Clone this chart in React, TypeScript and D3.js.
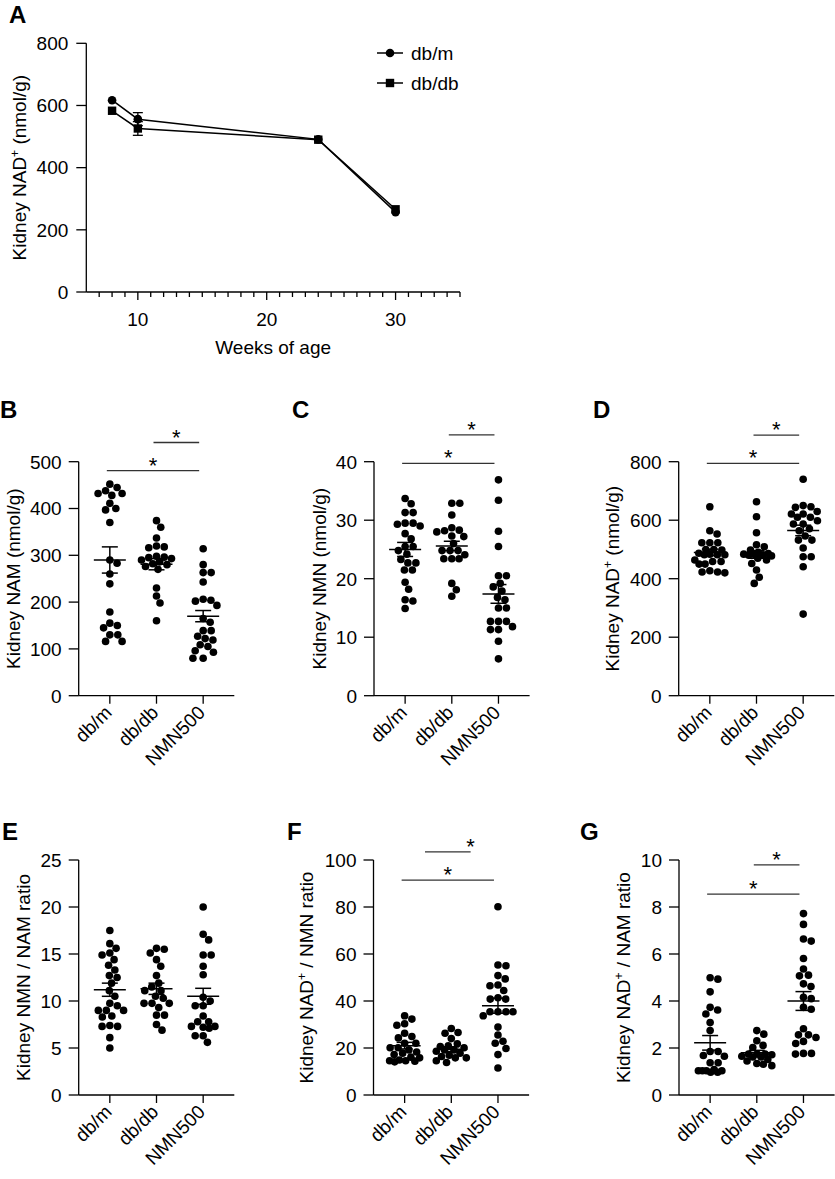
import React from 'react';
import * as d3 from 'd3';

const FONT = "'Liberation Sans', Arial, Helvetica, sans-serif";

// ---------- Panel A ----------
const weeks = [8, 10, 24, 30];
const nadDbm = [617, 556, 491, 257];
const nadDbmSem = [3, 21, 3, 3];
const nadDbdb = [583, 526, 490, 266];
const nadDbdbSem = [3, 22, 3, 3];
const weekTicks = [10, 20, 30];
const aYTicks = [0, 200, 400, 600, 800];

const groups = ['db/m', 'db/db', 'NMN500'];

// ---------- Panel B: Kidney NAM ----------
const bDbm = [452, 445, 438, 432, 432, 428, 411, 400, 397, 370, 290, 283, 260, 239, 179, 155, 150, 145, 130, 130, 116, 116];
const bDbdb = [374, 360, 337, 320, 318, 316, 298, 296, 295, 293, 290, 286, 282, 280, 276, 270, 230, 213, 198, 160];
const bNmn = [314, 280, 263, 263, 243, 206, 204, 202, 193, 165, 157, 139, 139, 127, 122, 119, 109, 105, 96, 93, 80, 80];
const bMean = [290, 281, 170];
const bSem = [28, 12, 12];
const bTicks = [0, 100, 200, 300, 400, 500];

// ---------- Panel C: Kidney NMN ----------
const cDbm = [33.7, 32.8, 31.3, 31.3, 29.5, 29.5, 29.3, 29.0, 27.7, 26.8, 25.5, 25.5, 24.8, 24.2, 23.3, 22.7, 22.7, 21.5, 21.5, 19.4, 18.2, 16.4, 16.2, 14.9];
const cDbdb = [32.9, 32.9, 30.9, 28.7, 28.3, 28.2, 28.0, 27.3, 27.2, 26.0, 24.8, 24.8, 24.8, 24.1, 23.4, 23.4, 23.4, 19.2, 18.1, 17.0];
const cNmn = [36.9, 33.4, 28.1, 25.5, 20.5, 20.5, 19.2, 18.6, 17.9, 16.8, 16.4, 15.0, 15.0, 12.7, 12.7, 12.7, 11.8, 11.3, 11.3, 9.3, 6.3];
const cMean = [25.0, 25.6, 17.4];
const cSem = [1.2, 0.8, 1.6];
const cTicks = [0, 10, 20, 30, 40];

// ---------- Panel D: Kidney NAD+ ----------
const dDbm = [646, 564, 553, 523, 523, 523, 500, 500, 498, 487, 484, 482, 482, 482, 464, 459, 459, 450, 450, 427, 423, 423, 420];
const dDbdb = [663, 612, 557, 516, 509, 498, 490, 486, 484, 484, 482, 480, 478, 470, 464, 452, 430, 405, 384];
const dNmn = [740, 650, 646, 644, 630, 621, 621, 610, 610, 598, 587, 587, 571, 564, 546, 532, 532, 505, 475, 475, 441, 279];
const dMean = [490, 483, 565];
const dSem = [11, 13, 18];
const dTicks = [0, 200, 400, 600, 800];

// ---------- Panel E: NMN / NAM ratio ----------
const eDbm = [17.5, 16.1, 15.6, 15.1, 14.9, 14.4, 13.8, 13.3, 12.7, 12.5, 11.9, 11.1, 10.5, 9.75, 9.5, 9.0, 9.0, 9.0, 8.4, 8.3, 7.4, 7.3, 7.3, 6.1, 5.0];
const eDbdb = [15.6, 15.5, 15.1, 14.4, 13.7, 12.7, 11.9, 11.5, 11.1, 11.1, 10.5, 10.3, 9.75, 9.75, 9.75, 9.3, 8.5, 8.5, 7.5, 6.9];
const eNmn = [20.0, 17.1, 16.5, 14.9, 14.9, 13.7, 12.8, 10.4, 10.0, 9.5, 9.5, 8.4, 7.8, 7.8, 7.3, 7.3, 7.2, 7.1, 6.3, 6.3, 5.6];
const eMean = [11.2, 11.3, 10.5];
const eSem = [0.7, 0.6, 0.85];
const eTicks = [0, 5, 10, 15, 20, 25];

// ---------- Panel F: NAD+ / NMN ratio ----------
const fDbm = [33.7, 32.3, 30.3, 29.7, 26.3, 24.9, 24.3, 22.0, 22.0, 20.1, 20.1, 19.2, 18.3, 17.8, 17.2, 16.1, 15.8, 14.9, 14.6, 14.6, 14.4, 14.1];
const fDbdb = [28.3, 26.6, 26.3, 24.0, 21.8, 20.9, 20.6, 20.1, 19.2, 19.2, 18.6, 17.8, 16.9, 16.4, 15.8, 15.8, 14.6, 13.8];
const fNmn = [80.1, 55.3, 55.0, 50.8, 49.4, 46.8, 46.5, 44.5, 41.4, 40.8, 40.8, 35.4, 35.4, 35.4, 35.4, 33.7, 28.9, 25.5, 22.9, 22.0, 19.8, 17.2, 11.5];
const fMean = [21.0, 19.5, 38.0];
const fSem = [1.4, 1.0, 3.2];
const fTicks = [0, 20, 40, 60, 80, 100];

// ---------- Panel G: NAD+ / NAM ratio ----------
const gDbm = [4.99, 4.93, 4.39, 3.73, 3.62, 3.45, 3.08, 2.74, 1.85, 1.85, 1.68, 1.65, 1.37, 1.37, 1.08, 1.03, 1.03, 1.03, 1.03, 0.97, 0.97];
const gDbdb = [2.74, 2.59, 2.31, 2.11, 2.02, 1.74, 1.74, 1.74, 1.71, 1.65, 1.62, 1.62, 1.51, 1.45, 1.34, 1.31, 1.25];
const gNmn = [7.72, 7.26, 6.64, 6.55, 5.81, 5.36, 5.10, 5.07, 4.73, 4.62, 4.16, 4.10, 3.73, 3.65, 2.82, 2.56, 2.56, 2.45, 2.28, 2.19, 1.77, 1.77, 1.74];
const gMean = [2.22, 1.8, 4.0];
const gSem = [0.31, 0.1, 0.4];
const gTicks = [0, 2, 4, 6, 8, 10];

// significance bars: [from index, to index, level (data units), asterisk fraction]
type Sig = [number, number, number, number];
const bSig: Sig[] = [[1, 2, 541, 0.5], [0, 2, 481, 0.5]];
const cSig: Sig[] = [[1, 2, 44.6, 0.5], [0, 2, 39.7, 0.5]];
const dSig: Sig[] = [[1, 2, 891, 0.5], [0, 2, 794, 0.5]];
const eSig: Sig[] = [];
const fSig: Sig[] = [[0.5, 1.5, 103.5, 1.0], [0, 2, 91.4, 0.5]];
const gSig: Sig[] = [[1, 2, 9.79, 0.5], [0, 2, 8.55, 0.5]];

// Beeswarm with a bounded half-width: points overlap when a cluster is too dense.
function beeswarm(values: number[], y: (v: number) => number, d: number, half: number) {
  const pts = values.map((v) => ({ v, y: y(v), x: 0 }));
  const order = pts.slice().sort((a, b) => a.y - b.y);
  const placed: { x: number; y: number }[] = [];
  const cands = d3
    .range(-half, half + 0.001, 0.25)
    .sort((a, b) => Math.abs(a) - Math.abs(b) || b - a);
  for (const p of order) {
    let best = 0;
    let bestScore = -1;
    for (const c of cands) {
      let md = Infinity;
      for (const q of placed) {
        const dist = Math.hypot(q.x - c, q.y - p.y);
        if (dist < md) md = dist;
      }
      const score = Math.min(md, d);
      if (score >= d - 1e-6) {
        best = c;
        bestScore = score;
        break;
      }
      if (score > bestScore + 1e-6) {
        bestScore = score;
        best = c;
      }
    }
    p.x = best;
    placed.push(p);
  }
  return pts;
}

function LabelText({ x, y, text, rotate = -90 }: { x: number; y: number; text: string; rotate?: number }) {
  const parts = text.split('⁺');
  return (
    <text transform={`translate(${x},${y}) rotate(${rotate})`} textAnchor="middle" fontSize={19}>
      {parts.map((p, i) => (
        <React.Fragment key={i}>
          {i > 0 && (
            <tspan fontSize={12} dy={-7}>
              +
            </tspan>
          )}
          <tspan dy={i > 0 ? 7 : 0}>{p}</tspan>
        </React.Fragment>
      ))}
    </text>
  );
}

type DotProps = {
  left: number;
  top: number;
  bottom: number;
  max: number;
  ticks: number[];
  label: string;
  labelX: number;
  letter: string;
  letterX: number;
  letterY: number;
  data: number[][];
  means: number[];
  sems: number[];
  sig: Sig[];
};

function DotPanel(p: DotProps) {
  const width = 155.6;
  const x = d3.scalePoint<string>().domain(groups).range([p.left, p.left + width]).padding(0.667);
  const y = d3.scaleLinear().domain([0, p.max]).range([p.bottom, p.top]);
  const step = x.step();
  const catX = (i: number) => (x(groups[0]) as number) + i * step;
  return (
    <g>
      <text x={p.letterX} y={p.letterY} fontSize={24} fontWeight="bold">
        {p.letter}
      </text>
      <LabelText x={p.labelX} y={(p.top + p.bottom) / 2} text={p.label} />
      {/* y axis */}
      <line x1={p.left} x2={p.left} y1={p.top} y2={p.bottom} stroke="#000" strokeWidth={1.3} />
      {p.ticks.map((t) => (
        <g key={t}>
          <line x1={p.left - 10} x2={p.left} y1={y(t)} y2={y(t)} stroke="#000" strokeWidth={1.3} />
          <text x={p.left - 17} y={y(t)} dy="0.36em" textAnchor="end" fontSize={19}>
            {t}
          </text>
        </g>
      ))}
      {/* x axis */}
      <line x1={p.left} x2={p.left + width} y1={p.bottom} y2={p.bottom} stroke="#000" strokeWidth={1.3} />
      {groups.map((g) => {
        const cx = x(g) as number;
        return (
          <g key={g}>
            <line x1={cx} x2={cx} y1={p.bottom} y2={p.bottom + 8} stroke="#000" strokeWidth={1.3} />
            <text
              transform={`translate(${cx + 3},${p.bottom + 18}) rotate(-45)`}
              textAnchor="end"
              fontSize={19}
            >
              {g}
            </text>
          </g>
        );
      })}
      {/* dots */}
      {p.data.map((vals, gi) => {
        const cx = catX(gi);
        const pts = beeswarm(vals, (v) => y(v), 7.8, 15);
        return (
          <g key={gi}>
            {pts.map((pt, i) => (
              <circle key={i} cx={cx + pt.x} cy={pt.y} r={3.8} fill="#000" />
            ))}
          </g>
        );
      })}
      {/* mean + SEM */}
      {p.means.map((m, gi) => {
        const cx = catX(gi);
        const s = p.sems[gi];
        return (
          <g key={gi} stroke="#000" strokeWidth={1.5}>
            <line x1={cx - 16} x2={cx + 16} y1={y(m)} y2={y(m)} />
            <line x1={cx} x2={cx} y1={y(m - s)} y2={y(m + s)} />
            <line x1={cx - 8} x2={cx + 8} y1={y(m + s)} y2={y(m + s)} />
            <line x1={cx - 8} x2={cx + 8} y1={y(m - s)} y2={y(m - s)} />
          </g>
        );
      })}
      {/* significance */}
      {p.sig.map(([a, b, lvl, frac], i) => {
        const x1 = catX(a) - 3;
        const x2 = catX(b) - 4;
        const yy = y(lvl);
        return (
          <g key={i}>
            <line x1={x1} x2={x2} y1={yy} y2={yy} stroke="#333" strokeWidth={1.3} />
            <text x={x1 + (x2 - x1) * frac} y={yy + 2} textAnchor="middle" fontSize={22}>
              *
            </text>
          </g>
        );
      })}
    </g>
  );
}

function PanelA() {
  const left = 86.3;
  const right = 460;
  const top = 43.3;
  const bottom = 292;
  const x = d3.scaleLinear().domain([6, 35]).range([left, right]);
  const y = d3.scaleLinear().domain([0, 800]).range([bottom, top]);
  const line = d3
    .line<number>()
    .x((_, i) => x(weeks[i]))
    .y((v) => y(v));
  const minor = d3.range(7, 36);
  const sq = 8.4;
  const mr = 4.3;
  return (
    <g>
      <text x={9} y={23} fontSize={24} fontWeight="bold">
        A
      </text>
      <LabelText x={26} y={(top + bottom) / 2} text="Kidney NAD⁺ (nmol/g)" />
      <line x1={left} x2={left} y1={top} y2={bottom} stroke="#000" strokeWidth={1.3} />
      {aYTicks.map((t) => (
        <g key={t}>
          <line x1={left - 10} x2={left} y1={y(t)} y2={y(t)} stroke="#000" strokeWidth={1.3} />
          <text x={left - 18} y={y(t)} dy="0.36em" textAnchor="end" fontSize={19}>
            {t}
          </text>
        </g>
      ))}
      <line x1={left} x2={right} y1={bottom} y2={bottom} stroke="#000" strokeWidth={1.3} />
      {minor.map((t) => (
        <line
          key={t}
          x1={x(t)}
          x2={x(t)}
          y1={bottom}
          y2={bottom + (weekTicks.includes(t) ? 8 : 5)}
          stroke="#000"
          strokeWidth={1.3}
        />
      ))}
      {weekTicks.map((t) => (
        <text key={t} x={x(t)} y={bottom + 34} textAnchor="middle" fontSize={19}>
          {t}
        </text>
      ))}
      <text x={(left + right) / 2} y={354} textAnchor="middle" fontSize={19}>
        Weeks of age
      </text>
      {/* error bars (hidden behind the marker when shorter than it) */}
      {[
        [nadDbm, nadDbmSem],
        [nadDbdb, nadDbdbSem],
      ].map(([vals, sems], si) => (
        <g key={si} stroke="#000" strokeWidth={1.3}>
          {vals.map((v, i) => {
            const cx = x(weeks[i]);
            const y1 = y(v + sems[i]);
            const y2 = y(v - sems[i]);
            if (y2 - y1 < 2 * mr + 1) return null;
            return (
              <g key={i}>
                <line x1={cx} x2={cx} y1={y1} y2={y2} />
                <line x1={cx - 5} x2={cx + 5} y1={y1} y2={y1} />
                <line x1={cx - 5} x2={cx + 5} y1={y2} y2={y2} />
              </g>
            );
          })}
        </g>
      ))}
      <path d={line(nadDbm) as string} fill="none" stroke="#000" strokeWidth={1.5} />
      <path d={line(nadDbdb) as string} fill="none" stroke="#000" strokeWidth={1.5} />
      {nadDbdb.map((v, i) => (
        <rect key={i} x={x(weeks[i]) - sq / 2} y={y(v) - sq / 2} width={sq} height={sq} fill="#000" />
      ))}
      {nadDbm.map((v, i) => (
        <circle key={i} cx={x(weeks[i])} cy={y(v)} r={mr} fill="#000" />
      ))}
      {/* legend */}
      <g>
        <line x1={377} x2={403} y1={53} y2={53} stroke="#000" strokeWidth={1.5} />
        <circle cx={390} cy={53} r={mr} fill="#000" />
        <text x={411} y={53} dy="0.36em" fontSize={19}>
          db/m
        </text>
        <line x1={377} x2={403} y1={83} y2={83} stroke="#000" strokeWidth={1.5} />
        <rect x={390 - sq / 2} y={83 - sq / 2} width={sq} height={sq} fill="#000" />
        <text x={411} y={83} dy="0.36em" fontSize={19}>
          db/db
        </text>
      </g>
    </g>
  );
}

export default function App() {
  return (
    <svg
      width={835}
      height={1179}
      style={{ position: 'absolute', left: 0, top: 0, background: '#fff' }}
      fontFamily={FONT}
    >
      <rect width={835} height={1179} fill="#fff" />
      <PanelA />
      <DotPanel left={78.7} top={461.7} bottom={695.7} max={500} ticks={bTicks} label="Kidney NAM (nmol/g)" labelX={19.5}
        letter="B" letterX={0} letterY={418} data={[bDbm, bDbdb, bNmn]} means={bMean} sems={bSem} sig={bSig} />
      <DotPanel left={374} top={461.7} bottom={695.7} max={40} ticks={cTicks} label="Kidney NMN (nmol/g)" labelX={326}
        letter="C" letterX={292} letterY={418} data={[cDbm, cDbdb, cNmn]} means={cMean} sems={cSem} sig={cSig} />
      <DotPanel left={678.7} top={461.7} bottom={695.7} max={800} ticks={dTicks} label="Kidney NAD⁺ (nmol/g)" labelX={619}
        letter="D" letterX={593} letterY={418} data={[dDbm, dDbdb, dNmn]} means={dMean} sems={dSem} sig={dSig} />
      <DotPanel left={78.7} top={860} bottom={1095} max={25} ticks={eTicks} label="Kidney NMN / NAM ratio" labelX={30}
        letter="E" letterX={2} letterY={840} data={[eDbm, eDbdb, eNmn]} means={eMean} sems={eSem} sig={eSig} />
      <DotPanel left={373.5} top={860} bottom={1095} max={100} ticks={fTicks} label="Kidney NAD⁺ / NMN ratio" labelX={313}
        letter="F" letterX={287} letterY={840} data={[fDbm, fDbdb, fNmn]} means={fMean} sems={fSem} sig={fSig} />
      <DotPanel left={679} top={860} bottom={1095} max={10} ticks={gTicks} label="Kidney NAD⁺ / NAM ratio" labelX={630}
        letter="G" letterX={580} letterY={840} data={[gDbm, gDbdb, gNmn]} means={gMean} sems={gSem} sig={gSig} />
    </svg>
  );
}
